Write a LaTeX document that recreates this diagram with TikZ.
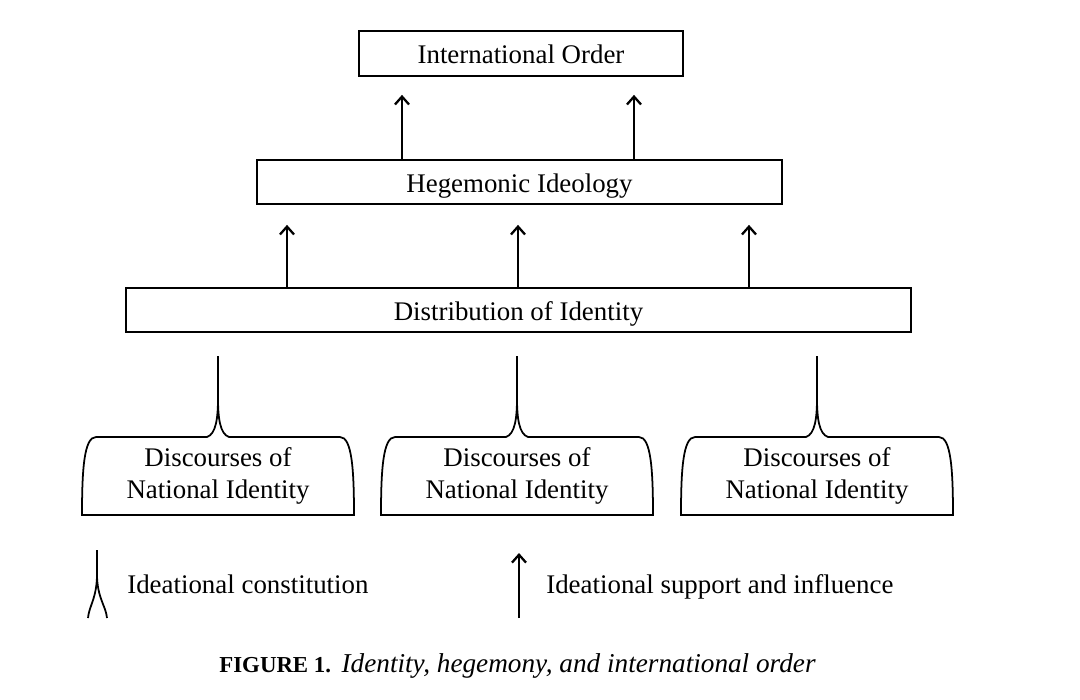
\documentclass[tikz,border=0pt]{standalone}
\usepackage{fontspec}
\setmainfont{Liberation Serif}
\usetikzlibrary{arrows.meta}

\tikzset{
  box/.style={draw,line width=1pt,inner sep=0pt,text height=11.5pt,text depth=0pt,font=\fontsize{15.3}{18}\selectfont},
  lab/.style={inner sep=0pt,font=\fontsize{15.3}{18}\selectfont},
  arr/.style={line width=1pt,-{Straight Barb[length=4.5pt,width=8pt,line width=1.3pt]}},
}

\begin{document}
\begin{tikzpicture}[x=0.02cm,y=-0.02cm]
  \useasboundingbox (0,0) rectangle (1080,700);

  \node[box,minimum width=6.48cm,minimum height=0.9cm] (order) at (521,53.5) {International Order};
  \node[box,minimum width=10.5cm,minimum height=0.88cm] (hegemony) at (519.5,182) {Hegemonic Ideology};
  \node[box,minimum width=15.7cm,minimum height=0.88cm] (identity) at (518.5,310) {Distribution of Identity};

  \foreach \x in {402,634}
    \draw [arr,shorten >=0.36cm] (hegemony.north -| \x,0) -- (order.south -| \x,0);
  \foreach \x in {287,518,749}
    \draw [arr,shorten >=0.4cm] (identity.north -| \x,0) -- (hegemony.south -| \x,0);

  \foreach \cx [count=\i] in {218,517,817}
  {
    \draw [line width=1pt] (\cx-136,515) .. controls (\cx-136,470) and (\cx-134,437) .. (\cx-122,437)
      -- (\cx-11,437) .. controls (\cx-2,434) and (\cx,418) .. (\cx,398)
      .. controls (\cx,418) and (\cx+2,434) .. (\cx+11,437)
      -- (\cx+122,437) .. controls (\cx+134,437) and (\cx+136,470) .. (\cx+136,515) -- cycle;
    \draw [line width=1pt] (\cx,398) -- (\cx,356);
    \node[lab,align=center] (discourse\i) at (\cx,476) {Discourses of\\National Identity};
  }

  \coordinate (ctop) at (97,550);
  \coordinate (csplit) at (97,574);
  \draw [line width=1pt] (ctop) -- (csplit);
  \draw [line width=1pt] (csplit) .. controls (97,598) and (89,606) .. (88,618);
  \draw [line width=1pt] (csplit) .. controls (97,598) and (106,606) .. (107,618);
  \node[lab,anchor=base west] (constitution) at (127,593) {Ideational constitution};

  \coordinate (stail) at (519,618);
  \coordinate (shead) at (519,553);
  \draw [arr] (stail) -- (shead);
  \node[lab,anchor=base west] (support) at (546,593) {Ideational support and influence};

  \node[lab,anchor=base] (caption) at (517.5,672) {{\fontsize{13}{15}\selectfont\bfseries FIGURE 1.}\hspace{6pt}{\fontsize{15.5}{18}\selectfont\itshape Identity, hegemony, and international order}};
\end{tikzpicture}
\end{document}
